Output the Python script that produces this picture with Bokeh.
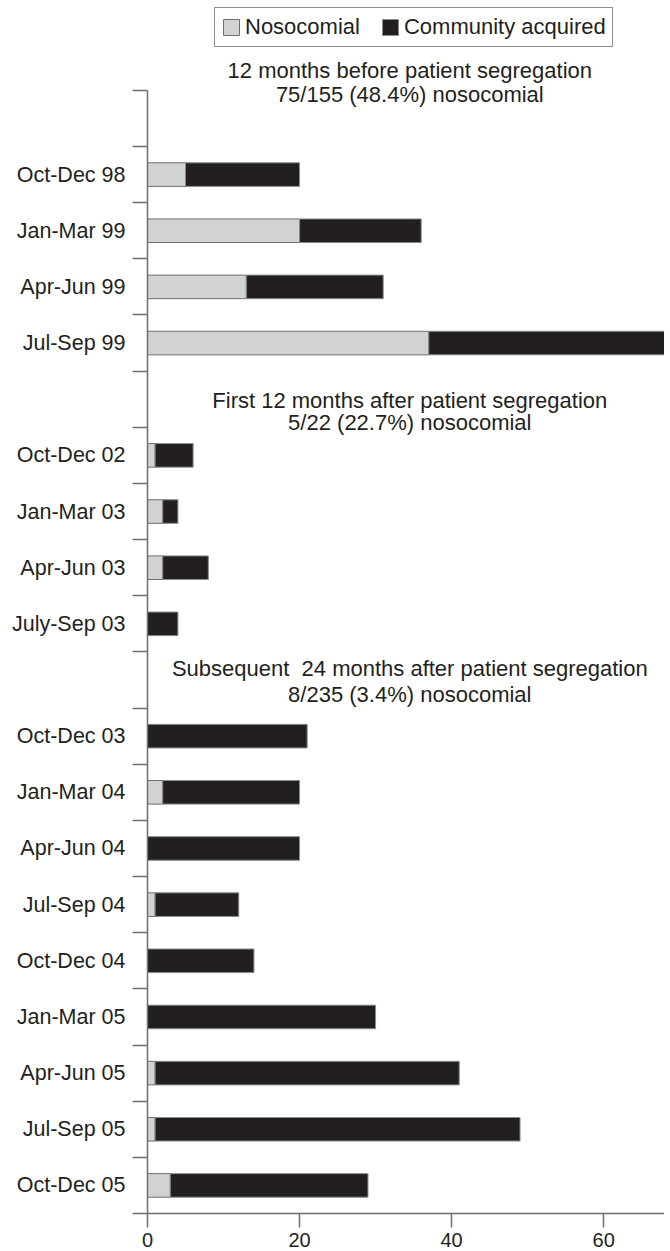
from bokeh.plotting import figure
from bokeh.models import Range1d, FixedTicker, Label, Legend, LegendItem, ColumnDataSource
from bokeh.embed import file_html
from bokeh.resources import INLINE

# ---------------- data ----------------
group_titles = [
    "12 months before patient segregation",
    "First 12 months after patient segregation",
    "Subsequent\u00a0 24 months after patient segregation",
]
group_summaries = [
    "75/155 (48.4%) nosocomial",
    "5/22 (22.7%) nosocomial",
    "8/235 (3.4%) nosocomial",
]

periods_before = ["Oct-Dec 98", "Jan-Mar 99", "Apr-Jun 99", "Jul-Sep 99"]
noso_before = [5, 20, 13, 37]
comm_before = [15, 16, 18, 31]

periods_first = ["Oct-Dec 02", "Jan-Mar 03", "Apr-Jun 03", "July-Sep 03"]
noso_first = [1, 2, 2, 0]
comm_first = [5, 2, 6, 4]

periods_later = ["Oct-Dec 03", "Jan-Mar 04", "Apr-Jun 04", "Jul-Sep 04", "Oct-Dec 04",
                 "Jan-Mar 05", "Apr-Jun 05", "Jul-Sep 05", "Oct-Dec 05"]
noso_later = [0, 2, 0, 1, 0, 0, 1, 1, 3]
comm_later = [21, 18, 20, 11, 14, 30, 40, 48, 26]

x_ticks = [0, 20, 40, 60]

# ---------------- rows (one heading row per group) ----------------
groups = [
    (periods_before, noso_before, comm_before),
    (periods_first, noso_first, comm_first),
    (periods_later, noso_later, comm_later),
]
# vertical offsets of the two heading lines relative to each heading row (style)
heading_offsets = [(-0.36, 0.08), (0.52, 0.92), (0.30, 0.75)]

ys, labels, noso, total, zero = [], [], [], [], []
heading_rows = []
row = 0
for periods, nos, com in groups:
    heading_rows.append(row)
    row += 1
    for lab, n, c in zip(periods, nos, com):
        ys.append(row + 0.5)
        labels.append(lab)
        noso.append(n)
        total.append(n + c)
        zero.append(0)
        row += 1
n_rows = row

src = ColumnDataSource(dict(y=ys, zero=zero, noso=noso, total=total))

FONT = "Liberation Sans"
TXT = "#231f20"
AX = "#6d6e71"

p = figure(width=664, height=1250, output_backend="svg", toolbar_location=None,
           x_range=Range1d(0, 68), y_range=Range1d(n_rows, -1.60),
           min_border_left=147, min_border_right=0, min_border_top=0, min_border_bottom=37)
p.outline_line_color = None
p.grid.visible = False
p.background_fill_color = "white"

r_noso = p.hbar(y="y", left="zero", right="noso", height=0.42, source=src,
                fill_color="#d1d2d4", line_color="#6d6e71", line_width=1)
r_comm = p.hbar(y="y", left="noso", right="total", height=0.42, source=src,
                fill_color="#231f20", line_color="#8c8c8c", line_width=1)

# y axis: labels at row centres, ticks at row boundaries
ya = p.yaxis[0]
ya.bounds = (0, n_rows)
ya.ticker = FixedTicker(ticks=ys, minor_ticks=list(range(n_rows + 1)))
ya.major_label_overrides = {y: lab for y, lab in zip(ys, labels)}
ya.major_tick_out = 0
ya.major_tick_in = 0
ya.minor_tick_out = 15
ya.minor_tick_in = 0
ya.major_label_standoff = 7
ya.major_label_text_font = FONT
ya.major_label_text_font_size = "21.5px"
ya.major_label_text_color = TXT
ya.axis_line_color = AX
ya.axis_line_width = 1.5
ya.minor_tick_line_color = AX
ya.minor_tick_line_width = 1.5

xa = p.xaxis[0]
xa.bounds = (-2, 70)
xa.ticker = FixedTicker(ticks=x_ticks, minor_ticks=[])
xa.major_tick_out = 14
xa.major_tick_in = 0
xa.minor_tick_out = 0
xa.minor_tick_in = 0
xa.major_label_standoff = 5
xa.major_label_text_font = FONT
xa.major_label_text_font_size = "20px"
xa.major_label_text_color = TXT
xa.axis_line_color = AX
xa.axis_line_width = 1.5
xa.major_tick_line_color = AX
xa.major_tick_line_width = 1.5

# group headings
for hr, title, summ, (o1, o2) in zip(heading_rows, group_titles, group_summaries, heading_offsets):
    for text, off in ((title, o1), (summ, o2)):
        p.add_layout(Label(x=34.5, y=hr + off, text=text, text_align="center",
                           text_baseline="middle", text_font=FONT, text_font_size="22px",
                           text_color=TXT))

legend = Legend(items=[LegendItem(label="Nosocomial", renderers=[r_noso]),
                       LegendItem(label="Community acquired", renderers=[r_comm])],
                orientation="horizontal", location=(67, 1166),
                glyph_width=20, glyph_height=20, label_standoff=4, spacing=20,
                padding=6, margin=0, label_height=20,
                label_text_font=FONT, label_text_font_size="22px", label_text_color=TXT,
                border_line_color=TXT, border_line_width=1.2,
                background_fill_color="white", background_fill_alpha=1)
p.add_layout(legend)

open("out.html", "w").write(file_html(p, INLINE))
